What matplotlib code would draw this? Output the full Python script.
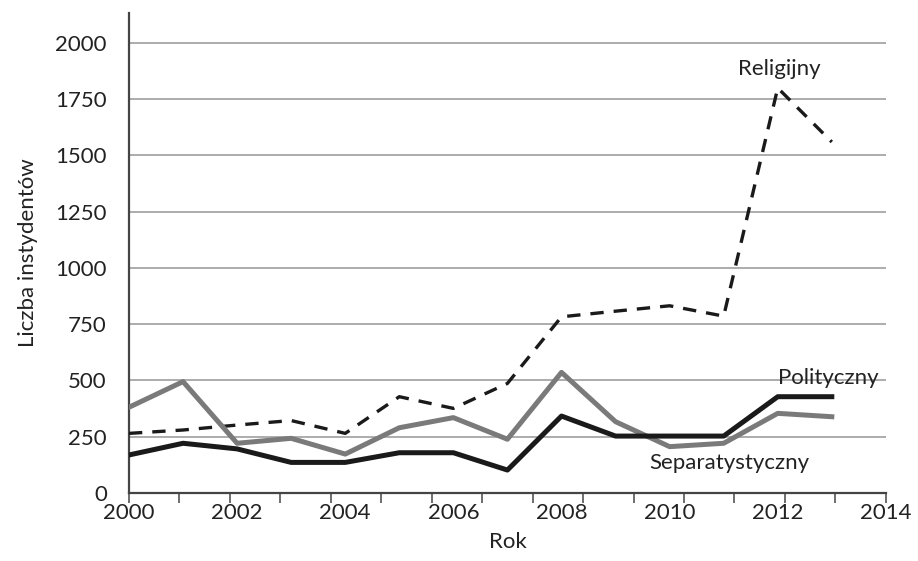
import numpy as np
import matplotlib.pyplot as plt

plt.rcParams['font.family'] = ['Lato', 'DejaVu Sans']

# Dane
years = [2000, 2001, 2002, 2003, 2004, 2005, 2006, 2007, 2008, 2009, 2010, 2011, 2012, 2013]
religijny = [265, 280, 302, 322, 265, 428, 376, 487, 783, 808, 832, 786, 1800, 1560]
polityczny = [169, 221, 196, 136, 136, 179, 179, 102, 342, 253, 253, 253, 428, 428]
separatystyczny = [381, 495, 221, 243, 173, 290, 335, 239, 536, 317, 206, 221, 354, 339]

y_ticks = [0, 250, 500, 750, 1000, 1250, 1500, 1750, 2000]
x_labels = [2000, 2002, 2004, 2006, 2008, 2010, 2012, 2014]

fig = plt.figure(figsize=(9.18, 5.61), dpi=100)
ax = fig.add_axes([0.1405, 0.1212, 0.8245, 0.856])

for y in y_ticks[1:]:
    ax.axhline(y, color='#a6a6a6', lw=1.3, zorder=1)

ax.plot(years, religijny, color='#1a1a1a', lw=2.4, ls=(0, (4, 3)), zorder=3)
ax.plot(years, separatystyczny, color='#7a7a7a', lw=3.6, zorder=3)
ax.plot(years, polityczny, color='#1a1a1a', lw=3.6, zorder=4)

ax.text(2012.02, 1885, 'Religijny', fontsize=16, ha='center', va='center', color='#222222')
ax.text(2012.93, 511, 'Polityczny', fontsize=16, ha='center', va='center', color='#222222')
ax.text(2011.11, 133, 'Separatystyczny', fontsize=16, ha='center', va='center', color='#222222')

ax.set_xlim(2000, 2014)
ax.set_ylim(0, 2134)

# znaczniki osi X (15 przedziałów, jak w oryginale)
ax.xaxis.remove_overlapping_locs = False
ax.set_xticks(np.linspace(2000, 2014, 16))
ax.set_xticklabels([])
ax.tick_params(axis='x', which='major', length=7, width=1.2, color='#555555', direction='out')
ax.set_xticks(x_labels, minor=True)
ax.set_xticklabels([str(v) for v in x_labels], minor=True, fontsize=16, color='#222222')
ax.tick_params(axis='x', which='minor', length=0, pad=7.5)

ax.set_yticks(y_ticks)
ax.set_yticklabels([str(v) for v in y_ticks], fontsize=16, color='#222222')
ax.tick_params(axis='y', length=0, pad=16)

for side in ['top', 'right']:
    ax.spines[side].set_visible(False)
for side in ['left', 'bottom']:
    ax.spines[side].set_color('#444444')
    ax.spines[side].set_linewidth(1.6)

ax.set_xlabel('Rok', fontsize=16, color='#222222', labelpad=6)
ax.set_ylabel('Liczba instydentów', fontsize=16, color='#222222', labelpad=12)

fig.savefig('out.png', dpi=100)
